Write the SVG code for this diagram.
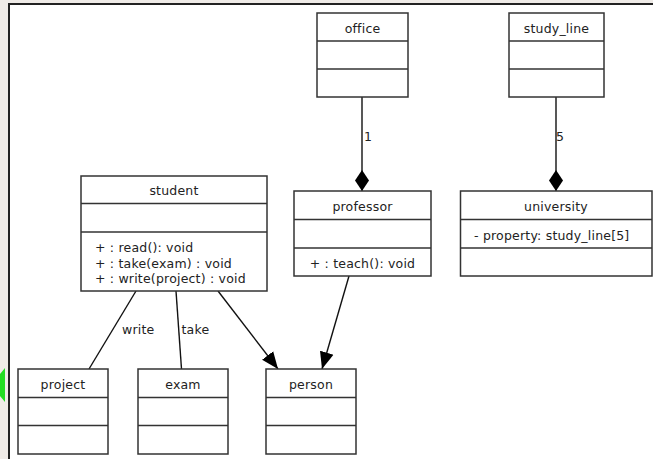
<svg xmlns="http://www.w3.org/2000/svg" width="653" height="459" viewBox="0 0 653 459">
<defs>
<style>
.box{fill:#fff;stroke:#333;stroke-width:1.5}
.sep{stroke:#333;stroke-width:1.5}
text{font-family:"DejaVu Sans",sans-serif;font-size:12.5px;fill:#222;letter-spacing:0.2px}
.c{text-anchor:middle}
.ln{stroke:#111;stroke-width:1.4;fill:none}
</style>
<marker id="dia" markerUnits="userSpaceOnUse" markerWidth="22" markerHeight="16" viewBox="0 -8 22 16" refX="21" refY="0" orient="auto">
<path d="M0,0 L10.5,-7 L21,0 L10.5,7 z" fill="#000"/>
</marker>
<marker id="arr" markerUnits="userSpaceOnUse" markerWidth="18" markerHeight="16" viewBox="0 -8 18 16" refX="17" refY="0" orient="auto">
<path d="M0,-7 L17,0 L0,7 z" fill="#000"/>
</marker>
</defs>
<rect width="653" height="459" fill="#efebe7"/>
<rect x="9" y="4" width="644" height="455" fill="#fff"/>
<path d="M9,459 V4 H653" stroke="#222" stroke-width="2" fill="none"/>
<polygon points="5,368 5,402 0,396 0,374" fill="#22dd22"/>

<g id="connectors">
<line class="ln" x1="362" y1="97" x2="362" y2="191" marker-end="url(#dia)"/>
<text x="364" y="141">1</text>
<line class="ln" x1="556" y1="97" x2="556" y2="191" marker-end="url(#dia)"/>
<text x="556" y="141">5</text>
<line class="ln" x1="136" y1="291" x2="89" y2="369"/>
<text x="122" y="334">write</text>
<line class="ln" x1="176" y1="291" x2="181.5" y2="369"/>
<text x="181.5" y="334">take</text>
<line class="ln" x1="218" y1="291" x2="278" y2="369" marker-end="url(#arr)"/>
<line class="ln" x1="349" y1="276" x2="322" y2="369" marker-end="url(#arr)"/>
</g>

<g id="office">
<rect class="box" x="317" y="13" width="91" height="84"/>
<line class="sep" x1="317" y1="41" x2="408" y2="41"/>
<line class="sep" x1="317" y1="69" x2="408" y2="69"/>
<text class="c" x="362.5" y="33">office</text>
</g>
<g id="study_line">
<rect class="box" x="509" y="13" width="95" height="84"/>
<line class="sep" x1="509" y1="41" x2="604" y2="41"/>
<line class="sep" x1="509" y1="69" x2="604" y2="69"/>
<text class="c" x="556.5" y="33">study_line</text>
</g>
<g id="student">
<rect class="box" x="81" y="176" width="186" height="115"/>
<line class="sep" x1="81" y1="203.5" x2="267" y2="203.5"/>
<line class="sep" x1="81" y1="232" x2="267" y2="232"/>
<text class="c" x="174" y="195">student</text>
<text x="95" y="252">+ : read(): void</text>
<text x="95" y="267.5">+ : take(exam) : void</text>
<text x="95" y="282.5">+ : write(project) : void</text>
</g>
<g id="professor">
<rect class="box" x="294" y="191" width="137" height="85"/>
<line class="sep" x1="294" y1="219.5" x2="431" y2="219.5"/>
<line class="sep" x1="294" y1="248" x2="431" y2="248"/>
<text class="c" x="362.5" y="211">professor</text>
<text class="c" x="362.5" y="268">+ : teach(): void</text>
</g>
<g id="university">
<rect class="box" x="460.5" y="191" width="191.5" height="85"/>
<line class="sep" x1="460.5" y1="219.5" x2="652" y2="219.5"/>
<line class="sep" x1="460.5" y1="248" x2="652" y2="248"/>
<text class="c" x="556" y="211">university</text>
<text x="474" y="240">- property: study_line[5]</text>
</g>
<g id="project">
<rect class="box" x="18" y="369" width="90" height="85"/>
<line class="sep" x1="18" y1="397.5" x2="108" y2="397.5"/>
<line class="sep" x1="18" y1="425.5" x2="108" y2="425.5"/>
<text class="c" x="63" y="389">project</text>
</g>
<g id="exam">
<rect class="box" x="138" y="369" width="90" height="85"/>
<line class="sep" x1="138" y1="397.5" x2="228" y2="397.5"/>
<line class="sep" x1="138" y1="425.5" x2="228" y2="425.5"/>
<text class="c" x="183" y="389">exam</text>
</g>
<g id="person">
<rect class="box" x="266" y="369" width="90" height="85"/>
<line class="sep" x1="266" y1="397.5" x2="356" y2="397.5"/>
<line class="sep" x1="266" y1="425.5" x2="356" y2="425.5"/>
<text class="c" x="311" y="389">person</text>
</g>
</svg>
